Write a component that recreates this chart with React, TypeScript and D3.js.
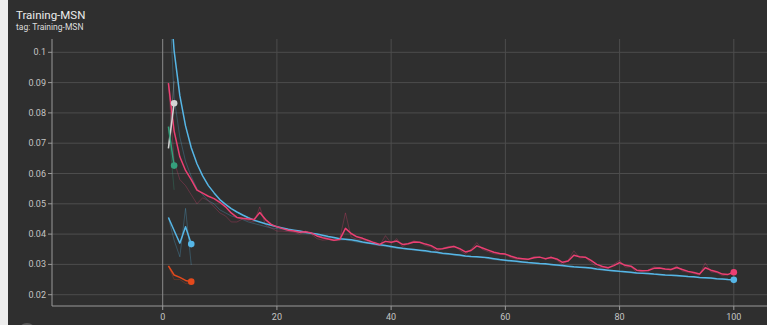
import React, { useEffect } from "react";
import * as d3 from "d3";

const W = 767;
const H = 325;

const epochs = d3.range(1, 101);

const blueSmooth = [
  0.125, 0.1005, 0.0857, 0.0757, 0.0685, 0.0632, 0.0592, 0.056, 0.0536, 0.0514,
  0.0498, 0.0484, 0.0473, 0.0463, 0.0454, 0.0446, 0.044, 0.0434, 0.0429, 0.0424,
  0.042, 0.0416, 0.0413, 0.041, 0.0406, 0.0403, 0.04, 0.0396, 0.0392, 0.0389,
  0.0385, 0.0383, 0.0381, 0.0378, 0.0374, 0.0371, 0.0368, 0.0365, 0.0362, 0.0359,
  0.0356, 0.0353, 0.0351, 0.0349, 0.0347, 0.0345, 0.0342, 0.034, 0.0337, 0.0335,
  0.0333, 0.0331, 0.0328, 0.0326, 0.0325, 0.0324, 0.0322, 0.0319, 0.0316, 0.0314,
  0.0312, 0.031, 0.0308, 0.0306, 0.0305, 0.0303, 0.0302, 0.03, 0.0298, 0.0296,
  0.0294, 0.0292, 0.0291, 0.029, 0.0288, 0.0285, 0.0283, 0.0281, 0.0279, 0.0277,
  0.0276, 0.0274, 0.0272, 0.0271, 0.027, 0.0268, 0.0267, 0.0265, 0.0264, 0.0263,
  0.0262, 0.026, 0.0259, 0.0257, 0.0256, 0.0255, 0.0253, 0.0252, 0.025, 0.0249,
];

const blueRaw = [
  0.125, 0.085, 0.072, 0.064, 0.059, 0.055, 0.053, 0.051, 0.05, 0.048,
  0.047, 0.046, 0.0455, 0.0448, 0.044, 0.0435, 0.043, 0.0425, 0.042, 0.0418,
  0.0416, 0.0411, 0.041, 0.0405, 0.0402, 0.0401, 0.0396, 0.0391, 0.0389, 0.0386,
  0.0381, 0.0381, 0.0378, 0.0374, 0.0371, 0.0369, 0.0365, 0.0362, 0.036, 0.0356,
  0.0353, 0.0351, 0.0349, 0.0347, 0.0345, 0.0342, 0.034, 0.0338, 0.0334, 0.0333,
  0.0331, 0.0328, 0.0326, 0.0325, 0.0324, 0.0322, 0.0319, 0.0316, 0.0314, 0.0312,
  0.031, 0.0308, 0.0306, 0.0305, 0.0303, 0.0302, 0.03, 0.0298, 0.0296, 0.0294,
  0.0292, 0.029, 0.029, 0.0288, 0.0286, 0.0283, 0.0281, 0.0279, 0.0277, 0.0276,
  0.0274, 0.0272, 0.0271, 0.027, 0.0268, 0.0267, 0.0265, 0.0264, 0.0263, 0.0261,
  0.026, 0.0259, 0.0257, 0.0256, 0.0255, 0.0253, 0.0252, 0.025, 0.0249, 0.0248,
];

const pinkSmooth = [
  0.0898, 0.074, 0.0655, 0.061, 0.058, 0.0545, 0.0535, 0.0525, 0.0517, 0.0505,
  0.049, 0.047, 0.0455, 0.0452, 0.045, 0.0448, 0.0471, 0.0448, 0.0432, 0.0424,
  0.0418, 0.0413, 0.041, 0.0406, 0.0408, 0.0404, 0.0394, 0.0388, 0.0384, 0.038,
  0.0382, 0.0419, 0.0402, 0.0391, 0.0386, 0.0379, 0.0372, 0.0366, 0.0376, 0.0373,
  0.0377, 0.0366, 0.0368, 0.0374, 0.0373, 0.0367, 0.0362, 0.0351, 0.0352, 0.0356,
  0.0359, 0.0352, 0.0341, 0.0346, 0.0361, 0.0354, 0.0347, 0.034, 0.0336, 0.0334,
  0.0327, 0.0321, 0.0319, 0.0317, 0.0322, 0.0324, 0.0319, 0.0323, 0.0318, 0.0307,
  0.0311, 0.033, 0.0325, 0.0324, 0.0313, 0.03, 0.0293, 0.0289, 0.0296, 0.0306,
  0.0297, 0.0294, 0.0281, 0.0279, 0.028, 0.0287, 0.0288, 0.0285, 0.0283, 0.029,
  0.0283, 0.0277, 0.0273, 0.0268, 0.0289, 0.0281, 0.0276, 0.0268, 0.0267, 0.0274,
];

const pinkRaw = [
  0.0898, 0.064, 0.058, 0.056, 0.053, 0.05, 0.052, 0.051, 0.049, 0.047,
  0.046, 0.044, 0.044, 0.045, 0.0445, 0.044, 0.049, 0.043, 0.042, 0.041,
  0.041, 0.0408, 0.0406, 0.04, 0.041, 0.04, 0.0385, 0.038, 0.0382, 0.0378,
  0.0384, 0.047, 0.039, 0.0383, 0.0383, 0.0374, 0.0367, 0.0362, 0.0395, 0.037,
  0.0385, 0.0358, 0.037, 0.0378, 0.0372, 0.0362, 0.0358, 0.0343, 0.0353, 0.0359,
  0.0361, 0.0347, 0.0334, 0.035, 0.0372, 0.0349, 0.0342, 0.0335, 0.0333, 0.0332,
  0.0322, 0.0317, 0.0318, 0.0316, 0.0326, 0.0325, 0.0316, 0.0326, 0.0314, 0.03,
  0.0314, 0.0345, 0.0321, 0.0323, 0.0306, 0.0291, 0.0289, 0.0287, 0.0301, 0.0313,
  0.0291, 0.0292, 0.0273, 0.0278, 0.0281, 0.0292, 0.0288, 0.0283, 0.0282, 0.0295,
  0.0278, 0.0274, 0.027, 0.0265, 0.0305, 0.0275, 0.0273, 0.0263, 0.0266, 0.0279,
];

const shortEpochs2 = [1, 2];
const greySmooth = [0.0683, 0.0832];
const greyRaw = [0.0683, 0.0905];
const greenSmooth = [0.0755, 0.0626];
const greenRaw = [0.0755, 0.0546];

const shortEpochs5 = [1, 2, 3, 4, 5];
const blueShortSmooth = [0.0455, 0.0412, 0.037, 0.0424, 0.0367];
const blueShortRaw = [0.0455, 0.038, 0.0325, 0.0485, 0.0298];
const orangeSmooth = [0.0295, 0.0265, 0.0257, 0.0247, 0.0243];
const orangeRaw = [0.0295, 0.025, 0.025, 0.0237, 0.024];

const xTicks = [0, 20, 40, 60, 80, 100];
const yTicks = [0.02, 0.03, 0.04, 0.05, 0.06, 0.07, 0.08, 0.09, 0.1];

const COLORS = {
  blue: "#56b6e6",
  pink: "#ec3f73",
  grey: "#d4d4d4",
  green: "#35a07c",
  orange: "#e3491c",
};

type Run = { xs: number[]; smooth: number[]; raw: number[]; color: string };

const runs: Run[] = [
  { xs: epochs, smooth: blueSmooth, raw: blueRaw, color: COLORS.blue },
  { xs: epochs, smooth: pinkSmooth, raw: pinkRaw, color: COLORS.pink },
  { xs: shortEpochs2, smooth: greySmooth, raw: greyRaw, color: COLORS.grey },
  { xs: shortEpochs2, smooth: greenSmooth, raw: greenRaw, color: COLORS.green },
  { xs: shortEpochs5, smooth: blueShortSmooth, raw: blueShortRaw, color: COLORS.blue },
  { xs: shortEpochs5, smooth: orangeSmooth, raw: orangeRaw, color: COLORS.orange },
];

const plotLeft = 52;
const plotRight = W;
const plotTop = 39;
const plotBottom = 306;

export default function App() {
  useEffect(() => {
    document.body.style.margin = "0";
  }, []);

  const x = d3.scaleLinear().domain([0, 100]).range([162.7, 733.8]);
  const y = d3.scaleLinear().domain([0.02, 0.1]).range([294.7, 52.3]);

  const line = (xs: number[], vs: number[]) =>
    d3
      .line<number>()
      .x((_, i) => x(xs[i]))
      .y((v) => y(v))(vs) || "";

  const font = "Roboto, 'Noto Sans', sans-serif";

  return (
    <svg
      width={W}
      height={H}
      style={{ position: "absolute", left: 0, top: 0, display: "block" }}
    >
      <defs>
        <clipPath id="plotclip">
          <rect x={plotLeft} y={plotTop} width={plotRight - plotLeft} height={plotBottom - plotTop} />
        </clipPath>
      </defs>
      <rect x={0} y={0} width={W} height={H} fill="#ededed" />
      <rect x={8} y={0} width={W - 8} height={H} fill="#2f2f2f" />

      <text x={16} y={19} fill="#ececec" fontSize={11.5} fontFamily={font} fontWeight={400}>
        Training-MSN
      </text>
      <text x={16} y={30} fill="#dcdcdc" fontSize={8.5} fontFamily={font}>
        tag: Training-MSN
      </text>

      {/* grid */}
      {yTicks.map((t) => (
        <line key={"gy" + t} x1={plotLeft} x2={plotRight} y1={y(t)} y2={y(t)} stroke="#4d4d4d" strokeWidth={1} />
      ))}
      {xTicks.map((t) => (
        <line
          key={"gx" + t}
          x1={x(t)}
          x2={x(t)}
          y1={plotTop}
          y2={plotBottom}
          stroke={t === 0 ? "#8c8c8c" : "#4d4d4d"}
          strokeWidth={1}
        />
      ))}

      {/* axes */}
      <line x1={plotLeft} x2={plotLeft} y1={plotTop} y2={plotBottom} stroke="#9a9a9a" strokeWidth={1} />
      <line x1={plotLeft} x2={plotRight} y1={plotBottom} y2={plotBottom} stroke="#9a9a9a" strokeWidth={1} />
      {yTicks.map((t) => (
        <g key={"ty" + t}>
          <line x1={plotLeft - 4} x2={plotLeft} y1={y(t)} y2={y(t)} stroke="#9a9a9a" />
          <text
            x={plotLeft - 6}
            y={y(t)}
            dy="0.34em"
            textAnchor="end"
            fill="#c4c4c4"
            fontSize={9}
            fontFamily={font}
          >
            {String(t)}
          </text>
        </g>
      ))}
      {xTicks.map((t) => (
        <g key={"tx" + t}>
          <line x1={x(t)} x2={x(t)} y1={plotBottom} y2={plotBottom + 4} stroke="#9a9a9a" />
          <text x={x(t)} y={plotBottom + 14} textAnchor="middle" fill="#c4c4c4" fontSize={9} fontFamily={font}>
            {String(t)}
          </text>
        </g>
      ))}

      {/* data */}
      <g clipPath="url(#plotclip)">
        {runs.map((r, i) => (
          <path key={"raw" + i} d={line(r.xs, r.raw)} fill="none" stroke={r.color} strokeOpacity={0.28} strokeWidth={1} />
        ))}
        {runs.map((r, i) => (
          <path key={"sm" + i} d={line(r.xs, r.smooth)} fill="none" stroke={r.color} strokeWidth={1.5} strokeLinejoin="round" />
        ))}
        {runs.map((r, i) => (
          <circle
            key={"dot" + i}
            cx={x(r.xs[r.xs.length - 1])}
            cy={y(r.smooth[r.smooth.length - 1])}
            r={3.3}
            fill={r.color}
          />
        ))}
      </g>

      <circle cx={27} cy={332} r={9} fill="#5a5a5a" />
    </svg>
  );
}
